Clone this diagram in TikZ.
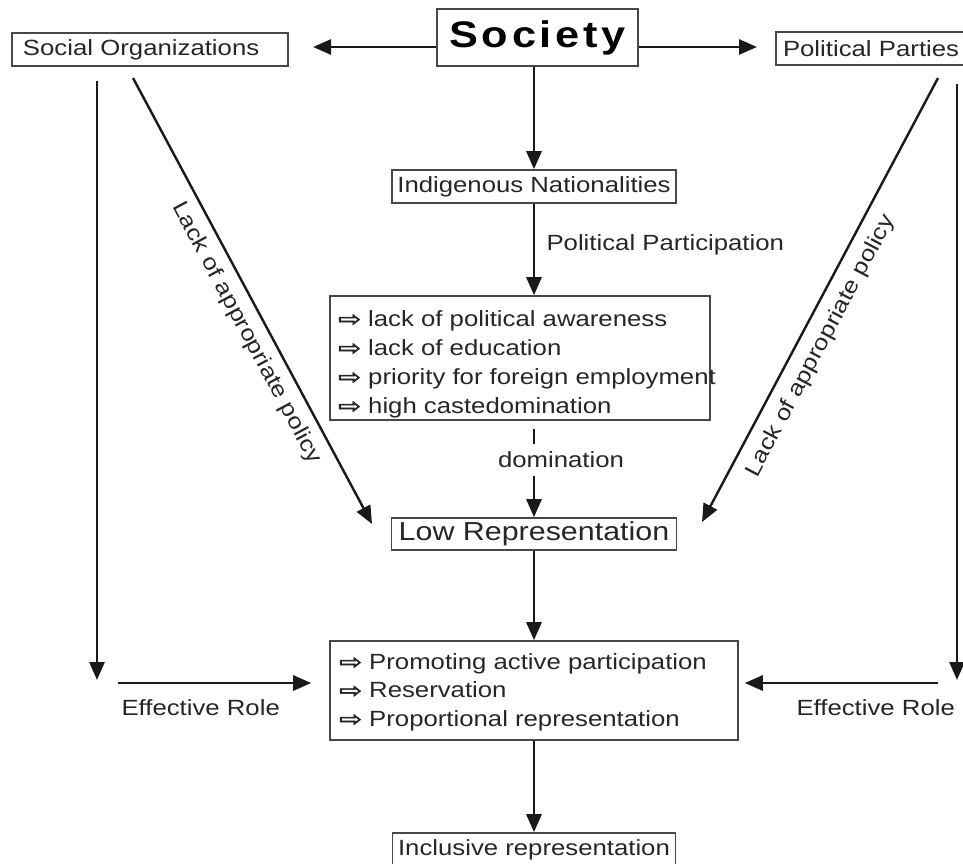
\documentclass[tikz,border=0pt]{standalone}
\usepackage{fontspec}
\setmainfont{Liberation Sans}[FakeStretch=1.17]
\newfontfamily\symf{DejaVu Sans}[FakeStretch=1.3, FakeBold=2.5]
\usetikzlibrary{arrows.meta}
\newcommand\myarr{\makebox[30pt][l]{\symf\fontsize{21}{21}\selectfont ⇨}}
\begin{document}
\begin{tikzpicture}[x=1pt,y=-1pt,
  txt/.style={text=black!85, font=\fontsize{22}{29}\selectfont},
  box/.style={draw=black!72, line width=1.6pt, inner sep=0pt, minimum height=33pt, txt},
  arr/.style={draw=black!90, line width=2.8pt, -{Triangle[length=18pt,width=15pt]}},
]
\useasboundingbox (0,0) rectangle (963,864);
% nodes
\node[box, fill=white, minimum width=201pt, minimum height=57pt, text=black,
      font=\fontsize{37}{37}\selectfont\bfseries] (soc) at (537.5,37.5)
      {S\kern3.8pt o\kern3.8pt c\kern3.8pt i\kern3.8pt e\kern3.8pt t\kern3.8pt y};
\node[box, text width=254pt, inner xsep=11pt, align=left] (so) at (150,49.5) {Social Organizations};
\node[box, text width=182pt, inner xsep=7pt, align=left] (pp) at (874,48.5) {Political Parties};
\node[box, minimum width=284pt] (ind) at (534,186.5) {Indigenous Nationalities};
\node[box, minimum width=380pt, minimum height=124pt] (l1) at (520,358) {};
\node[txt, anchor=west, align=left, inner sep=0pt] (l1t) at (338,364)
  {\mbox{\myarr lack of political awareness}\\
   \mbox{\myarr lack of education}\\
   \mbox{\myarr priority for foreign employment}\\
   \mbox{\myarr high castedomination}};
\node[box, minimum width=285pt, minimum height=32pt, font=\fontsize{26}{26}\selectfont] (low) at (534,534) {Low Representation};
\node[box, minimum width=408pt, minimum height=99pt] (l2) at (534,690.5) {};
\node[txt, anchor=west, align=left, inner sep=0pt, font=\fontsize{22}{28.5}\selectfont] (l2t) at (339,692)
  {\mbox{\myarr Promoting active participation}\\
   \mbox{\myarr Reservation}\\
   \mbox{\myarr Proportional representation}};
\node[box, minimum width=283pt, minimum height=34pt] (inc) at (534,850) {Inclusive representation};
% coordinates for free ends
\coordinate (sL) at (313,47);
\coordinate (sR) at (757,47);
\coordinate (lvE) at (97,680);
\coordinate (rvE) at (957,680);
\coordinate (ldS) at (133,78);
\coordinate (ldE) at (372,524);
\coordinate (rdS) at (938,78);
\coordinate (rdE) at (702,522);
\coordinate (erL) at (118,683);
\coordinate (erR) at (938,683);
% connectors
\draw[arr] (soc.west |- sL) -- (sL);
\draw[arr] (soc.east |- sR) -- (sR);
\draw[arr] (soc.south -| ind.north) -- (ind.north);
\draw[arr] (ind.south) -- (ind.south |- l1.north);
\draw[arr, shorten <=8pt] (l1.south -| low.north) -- (low.north);
\draw[arr] (low.south) -- (low.south |- l2.north);
\draw[arr] (l2.south) -- (inc.north);
\draw[arr, shorten <=14pt] (so.south -| lvE) -- (lvE);
\draw[arr, shorten <=18pt] (pp.south -| rvE) -- (rvE);
\draw[arr, line width=2.4pt] (ldS) -- (ldE)
  node[txt, sloped, pos=0.55, anchor=north, inner ysep=9pt] (lapL) {Lack of appropriate policy};
\draw[arr, line width=2.4pt] (rdS) -- (rdE)
  node[txt, sloped, pos=0.58, anchor=north, inner ysep=11pt] (lapR) {Lack of appropriate policy};
\draw[arr, shorten >=18pt] (erL) -- (erL -| l2.west);
\draw[arr, shorten >=6pt] (erR) -- (erR -| l2.east);
% labels
\node[txt, anchor=west] (polp) at (543,245) {Political Participation};
\node[txt, fill=white, inner xsep=2pt, inner ysep=8pt] (dom) at (561,460) {domination};
\node[txt, anchor=west] (erlL) at (118,708) {Effective Role};
\node[txt, anchor=west] (erlR) at (793,708) {Effective Role};
\end{tikzpicture}
\end{document}
